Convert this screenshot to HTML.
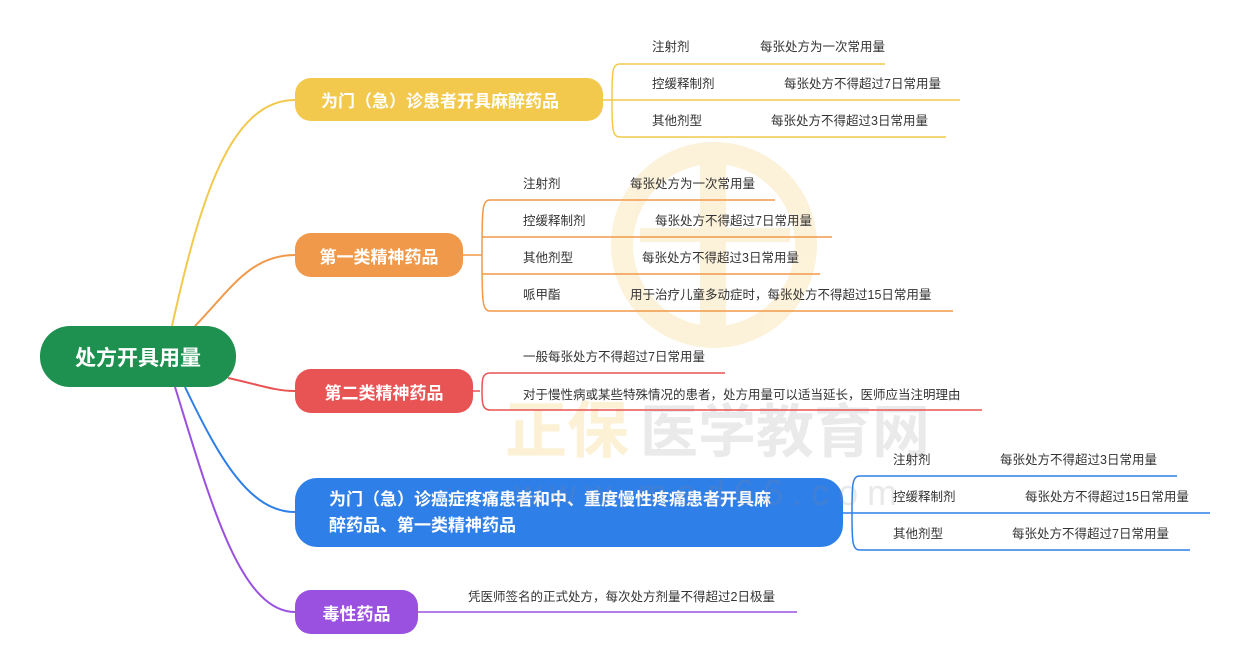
<!DOCTYPE html>
<html><head><meta charset="utf-8"><style>
html,body{margin:0;padding:0;background:#fff;}
body{width:1251px;height:667px;position:relative;overflow:hidden;font-family:"Liberation Sans","Noto Sans CJK SC",sans-serif;}
.box{position:absolute;color:#fff;font-weight:bold;display:flex;align-items:center;box-sizing:border-box;}
.t{position:absolute;font-size:12.5px;color:#333;white-space:nowrap;line-height:16px;}
</style></head><body>
<svg width="1251" height="667" style="position:absolute;left:0;top:0">
<g opacity="0.18">
<circle cx="714" cy="245" r="92" fill="none" stroke="#f2b632" stroke-width="22"/>
<rect x="700" y="160" width="26" height="170" fill="#f2b632"/>
<rect x="640" y="228" width="150" height="14" fill="#f2b632"/>
</g>
<text x="505" y="452" font-size="62" font-weight="bold" fill="#f2b632" opacity="0.2" font-family="Noto Sans CJK SC">正保</text>
<text x="640" y="452" font-size="58" font-weight="bold" fill="#999" opacity="0.2" font-family="Noto Sans CJK SC">医学教育网</text>
<g fill="none" stroke-width="2">
<path d="M172 326 C 200 200, 230 100, 295 100" stroke="#f2c94c"/>
<path d="M195 326 C 230 290, 250 255, 295 255" stroke="#f0994a"/>
<path d="M228 378 C 260 385, 275 391, 295 391" stroke="#e85454"/>
<path d="M185 387 C 220 460, 250 512, 295 512" stroke="#2f7fe8"/>
<path d="M175 387 C 210 500, 240 612, 295 612" stroke="#9b51e0"/>
</g>
<g fill="none" stroke-width="1.5">
<g stroke="#f2c94c">
<path d="M603 100 L612 100 M620 64 C612 64,612 72,612 100 C612 128,612 137,620 137"/>
<path d="M620 64 L885 64 M612 100 L960 100 M620 137 L946 137"/>
</g>
<g stroke="#f0994a">
<path d="M463 255 L482 255 M490 200 C482 200,482 210,482 255 C482 300,482 311,490 311"/>
<path d="M490 200 L775 200 M490 237 L832 237 M490 274 L820 274 M490 311 L953 311"/>
<path d="M482 237 L490 237 M482 274 L490 274"/>
</g>
<g stroke="#e85454">
<path d="M473 391 L480 391 M490 373 C482 373,482 380,482 391 C482 402,482 410,490 410"/>
<path d="M490 373 L725 373 M490 410 L982 410"/>
</g>
<g stroke="#2f7fe8">
<path d="M843 513 L852 513 M860 476 C852 476,852 485,852 513 C852 541,852 550,860 550"/>
<path d="M860 476 L1177 476 M852 513 L1210 513 M860 550 L1190 550"/>
</g>
<g stroke="#9b51e0"><path d="M418 612 L797 612"/></g>
</g>
</svg>
<div class="box" style="left:40px;top:326px;width:196px;height:61px;background:#1e9150;border-radius:30px;justify-content:center;font-size:21px;">处方开具用量</div>
<div class="box" style="left:295px;top:78px;width:308px;height:43px;background:#f2c94c;border-radius:16px;padding-left:26px;font-size:17px;">为门（急）诊患者开具麻醉药品</div>
<div class="box" style="left:295px;top:233px;width:168px;height:44px;background:#f0994a;border-radius:16px;justify-content:center;font-size:17px;">第一类精神药品</div>
<div class="box" style="left:295px;top:369px;width:178px;height:44px;background:#e85454;border-radius:16px;justify-content:center;font-size:17px;">第二类精神药品</div>
<div class="box" style="left:295px;top:478px;width:548px;height:69px;background:#2f7fe8;border-radius:22px;padding:0 10px 0 34px;font-size:17px;line-height:26px;white-space:nowrap;"><div>为门（急）诊癌症疼痛患者和中、重度慢性疼痛患者开具麻<br>醉药品、第一类精神药品</div></div>
<div class="box" style="left:295px;top:590px;width:123px;height:44px;background:#9b51e0;border-radius:16px;justify-content:center;font-size:17px;">毒性药品</div>

<svg width="1251" height="667" style="position:absolute;left:0;top:0;pointer-events:none">
<text x="515" y="505" font-size="36" fill="#888" opacity="0.18" letter-spacing="9" font-family="Liberation Sans">www.med66.com</text>
</svg>

<div class="t" style="left:652px;top:39px">注射剂</div><div class="t" style="left:760px;top:39px">每张处方为一次常用量</div>
<div class="t" style="left:652px;top:76px">控缓释制剂</div><div class="t" style="left:784px;top:76px">每张处方不得超过7日常用量</div>
<div class="t" style="left:652px;top:113px">其他剂型</div><div class="t" style="left:771px;top:113px">每张处方不得超过3日常用量</div>

<div class="t" style="left:523px;top:176px">注射剂</div><div class="t" style="left:630px;top:176px">每张处方为一次常用量</div>
<div class="t" style="left:523px;top:213px">控缓释制剂</div><div class="t" style="left:655px;top:213px">每张处方不得超过7日常用量</div>
<div class="t" style="left:523px;top:250px">其他剂型</div><div class="t" style="left:642px;top:250px">每张处方不得超过3日常用量</div>
<div class="t" style="left:523px;top:287px">哌甲酯</div><div class="t" style="left:630px;top:287px">用于治疗儿童多动症时，每张处方不得超过15日常用量</div>

<div class="t" style="left:523px;top:349px">一般每张处方不得超过7日常用量</div>
<div class="t" style="left:523px;top:387px">对于慢性病或某些特殊情况的患者，处方用量可以适当延长，医师应当注明理由</div>

<div class="t" style="left:893px;top:452px">注射剂</div><div class="t" style="left:1000px;top:452px">每张处方不得超过3日常用量</div>
<div class="t" style="left:893px;top:489px">控缓释制剂</div><div class="t" style="left:1025px;top:489px">每张处方不得超过15日常用量</div>
<div class="t" style="left:893px;top:526px">其他剂型</div><div class="t" style="left:1012px;top:526px">每张处方不得超过7日常用量</div>

<div class="t" style="left:468px;top:589px">凭医师签名的正式处方，每次处方剂量不得超过2日极量</div>
</body></html>
